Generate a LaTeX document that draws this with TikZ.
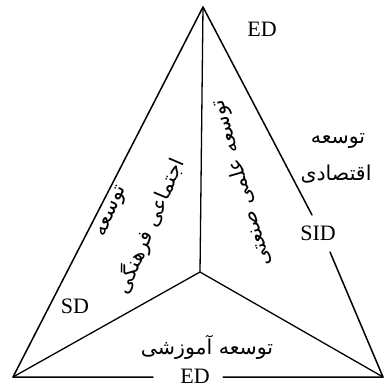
\documentclass[tikz,border=0pt]{standalone}
\usepackage{fontspec}
\setmainfont{Liberation Serif}
\newfontfamily\arabicfont[Script=Arabic]{DejaVu Sans}
\TeXXeTstate=1
\begin{document}
\begin{tikzpicture}[x=1pt,y=-1pt,
  edge/.style={line width=1.5pt, line join=round, line cap=round},
  inner/.style={line width=1.3pt, line join=round, line cap=round},
  lat/.style={font=\fontsize{22}{24}\selectfont, inner sep=0pt},
  fa/.style={font=\arabicfont\fontsize{20.5}{24}\selectfont, inner sep=0pt}]
\useasboundingbox (0,0) rectangle (386,387);
\coordinate (A) at (203,7);
\coordinate (L) at (13,377);
\coordinate (R) at (383,377);
\coordinate (O) at (200,272);
\coordinate (r1) at (312,215);
\coordinate (r2) at (330,252);
\coordinate (b1) at (153,377);
\coordinate (b2) at (223,377);
% outer triangle with gaps
\draw[edge] (r1) -- (A) -- (L) -- (b1);
\draw[edge] (b2) -- (R) -- (r2);
% inner spokes
\draw[inner] (A) -- (O);
\draw[inner] (L) -- (O) -- (R);
% Latin labels
\node[lat] (edtop) at (262,29) {ED};
\node[lat] (sid) at (318,233) {SID};
\node[lat] (sd) at (75,306) {SD};
\node[lat] (edbot) at (195,376) {ED};
% Persian labels
\node[fa] (eco1) at (338,141) {\beginR توسعه\endR};
\node[fa] (eco2) at (336,174) {\beginR اقتصادی\endR};
\node[fa] (edu) at (207,347) {\beginR توسعه آموزشی\endR};
\node[fa, rotate=67] (soc1) at (113,212) {\beginR توسعه\endR};
\node[fa, rotate=67] (soc2) at (150,226) {\beginR اجتماعی فرهنگی\endR};
\node[fa, rotate=106] (sci) at (242,183) {\beginR توسعه علمی صنعتی\endR};
\end{tikzpicture}
\end{document}
